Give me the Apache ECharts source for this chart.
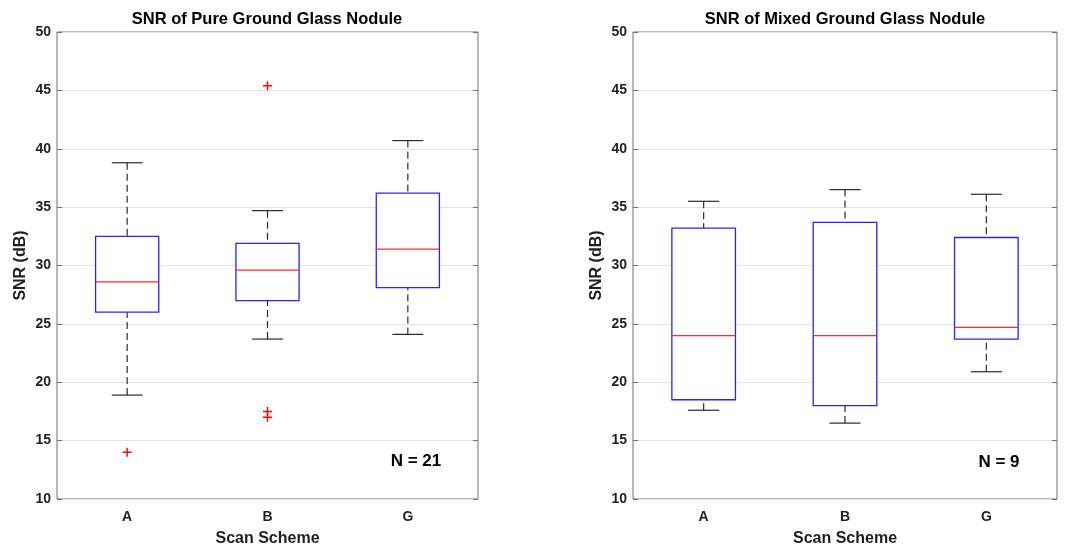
<!DOCTYPE html>
<html>
<head>
<meta charset="utf-8">
<script src="https://cdn.jsdelivr.net/npm/echarts@6/dist/echarts.min.js"></script>
<style>
  html, body { margin: 0; padding: 0; background: #fff; }
  #chart { width: 1073px; height: 547px; }
</style>
</head>
<body>
<div id="chart"></div>
<script>
// scan schemes
var categories = ['A', 'B', 'G'];

// pure ground glass nodule (N = 21)
var pureLow  = [18.9, 23.7, 24.1];
var pureQ1   = [26.0, 27.0, 28.1];
var pureMed  = [28.6, 29.6, 31.4];
var pureQ3   = [32.5, 31.9, 36.2];
var pureHigh = [38.8, 34.7, 40.7];
var pureOutliers = [[0, 14.0], [1, 45.4], [1, 17.5], [1, 17.0]];

// mixed ground glass nodule (N = 9)
var mixedLow  = [17.6, 16.5, 20.9];
var mixedQ1   = [18.5, 18.0, 23.7];
var mixedMed  = [24.0, 24.0, 24.7];
var mixedQ3   = [33.2, 33.7, 32.4];
var mixedHigh = [35.5, 36.5, 36.1];
var mixedOutliers = [];

var yTicks = { min: 10, max: 50, interval: 5 };

var font = 'Liberation Sans, Arial, sans-serif';
var textColor = '#1f1f1f';
var frameColor = '#707070';

var chart = echarts.init(document.getElementById('chart'));

function boxRows(low, q1, med, q3, high) {
    var rows = [];
    for (var i = 0; i < categories.length; i++) {
        rows.push([i, low[i], q1[i], med[i], q3[i], high[i]]);
    }
    return rows;
}

// matlab style box: dashed whiskers, black caps, blue box, red median
function renderBox(params, api) {
    var i = api.value(0);
    var x = api.coord([i, api.value(3)])[0];
    var yOf = function (v) { return api.coord([i, v])[1]; };
    var band = api.size([1, 0])[0];
    var half = band * 0.225;
    var cap = band * 0.11;
    var low = yOf(api.value(1)), q1 = yOf(api.value(2)), med = yOf(api.value(3));
    var q3 = yOf(api.value(4)), high = yOf(api.value(5));
    var dash = { stroke: '#2a2a2a', lineWidth: 1.2, lineDash: [7, 4] };
    var solid = { stroke: '#2a2a2a', lineWidth: 1.2 };
    return {
        type: 'group',
        children: [
            { type: 'line', shape: { x1: x, y1: high, x2: x, y2: q3 }, style: dash },
            { type: 'line', shape: { x1: x, y1: low, x2: x, y2: q1 }, style: dash },
            { type: 'line', shape: { x1: x - cap, y1: high, x2: x + cap, y2: high }, style: solid },
            { type: 'line', shape: { x1: x - cap, y1: low, x2: x + cap, y2: low }, style: solid },
            { type: 'rect', shape: { x: x - half, y: q3, width: half * 2, height: q1 - q3 },
              style: { fill: '#fff', stroke: '#2424ff', lineWidth: 1.3 } },
            { type: 'line', shape: { x1: x - half, y1: med, x2: x + half, y2: med },
              style: { stroke: '#ff2a2a', lineWidth: 1.3 } }
        ]
    };
}

var grids = [
    { left: 57, right: 595, top: 32, bottom: 48, show: true, borderColor: frameColor, borderWidth: 1,
      containLabel: false, outerBoundsMode: 'none' },
    { left: 633, right: 16, top: 32, bottom: 48, show: true, borderColor: frameColor, borderWidth: 1,
      containLabel: false, outerBoundsMode: 'none' }
];

var xAxes = [];
var yAxes = [];
for (var g = 0; g < 2; g++) {
    xAxes.push({
        type: 'category', gridIndex: g, data: categories, position: 'bottom',
        name: 'Scan Scheme', nameLocation: 'middle', nameGap: 32,
        nameTextStyle: { fontFamily: font, fontWeight: 'bold', fontSize: 16, color: textColor },
        axisLine: { show: false },
        axisTick: { inside: true, alignWithLabel: true, length: 5, lineStyle: { color: frameColor } },
        axisLabel: { fontFamily: font, fontWeight: 'bold', fontSize: 14, color: textColor, margin: 11 },
        splitLine: { show: false }
    });
    xAxes.push({
        type: 'category', gridIndex: g, data: categories, position: 'top',
        axisLine: { show: false },
        axisTick: { inside: true, alignWithLabel: true, length: 5, lineStyle: { color: frameColor } },
        axisLabel: { show: false },
        splitLine: { show: false }
    });
    yAxes.push({
        type: 'value', gridIndex: g, position: 'left',
        min: yTicks.min, max: yTicks.max, interval: yTicks.interval,
        name: 'SNR (dB)', nameLocation: 'middle', nameGap: 28, nameRotate: 90,
        nameTextStyle: { fontFamily: font, fontWeight: 'bold', fontSize: 16, color: textColor },
        axisLine: { show: false },
        axisTick: { show: true, inside: true, length: 5, lineStyle: { color: frameColor } },
        axisLabel: { fontFamily: font, fontWeight: 'bold', fontSize: 14, color: textColor, margin: 6 },
        splitLine: { show: true, lineStyle: { color: '#e2e2e2', width: 1 } }
    });
    yAxes.push({
        type: 'value', gridIndex: g, position: 'right',
        min: yTicks.min, max: yTicks.max, interval: yTicks.interval,
        axisLine: { show: false },
        axisTick: { show: true, inside: true, length: 5, lineStyle: { color: frameColor } },
        axisLabel: { show: false },
        splitLine: { show: false }
    });
}

var plusSymbol = 'path://M0,4.2H10V5.8H0Z M4.2,0H5.8V10H4.2Z';

chart.setOption({
    animation: false,
    backgroundColor: '#fff',
    grid: grids,
    xAxis: xAxes,
    yAxis: yAxes,
    graphic: [
        { type: 'text', x: 267, y: 19, style: { text: 'SNR of Pure Ground Glass Nodule', fontFamily: font,
          fontWeight: 'bold', fontSize: 16.5, fill: '#000', align: 'center', verticalAlign: 'middle' } },
        { type: 'text', x: 845, y: 19, style: { text: 'SNR of Mixed Ground Glass Nodule', fontFamily: font,
          fontWeight: 'bold', fontSize: 16.5, fill: '#000', align: 'center', verticalAlign: 'middle' } },
        { type: 'text', x: 416, y: 461, style: { text: 'N = 21', fontFamily: font,
          fontWeight: 'bold', fontSize: 17, fill: '#000', align: 'center', verticalAlign: 'middle' } },
        { type: 'text', x: 999, y: 462, style: { text: 'N = 9', fontFamily: font,
          fontWeight: 'bold', fontSize: 17, fill: '#000', align: 'center', verticalAlign: 'middle' } }
    ],
    series: [
        {
            type: 'custom', xAxisIndex: 0, yAxisIndex: 0,
            renderItem: renderBox,
            encode: { x: 0, y: [1, 2, 3, 4, 5] },
            data: boxRows(pureLow, pureQ1, pureMed, pureQ3, pureHigh)
        },
        {
            type: 'scatter', xAxisIndex: 0, yAxisIndex: 0,
            symbol: plusSymbol, symbolSize: 9,
            itemStyle: { color: '#ff0000', opacity: 1 },
            data: pureOutliers
        },
        {
            type: 'custom', xAxisIndex: 2, yAxisIndex: 2,
            renderItem: renderBox,
            encode: { x: 0, y: [1, 2, 3, 4, 5] },
            data: boxRows(mixedLow, mixedQ1, mixedMed, mixedQ3, mixedHigh)
        },
        {
            type: 'scatter', xAxisIndex: 2, yAxisIndex: 2,
            symbol: plusSymbol, symbolSize: 9,
            itemStyle: { color: '#ff0000', opacity: 1 },
            data: mixedOutliers
        }
    ]
});
</script>
</body>
</html>
